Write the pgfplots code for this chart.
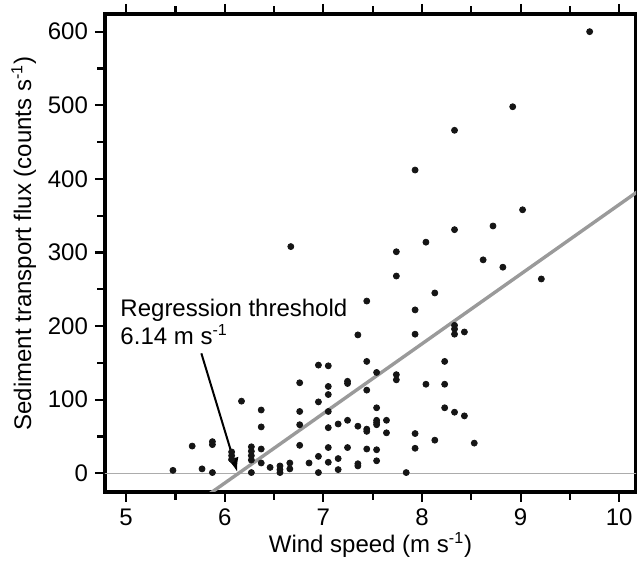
\documentclass[border=0pt]{standalone}
\usepackage{fontspec}
\setmainfont{Liberation Sans}
\usepackage{pgfplots}
\pgfplotsset{compat=1.18}
\usetikzlibrary{arrows.meta}
\newcommand\fs{\fontsize{12}{14}\selectfont}
\definecolor{regline}{HTML}{9A9A9A}
\definecolor{zeroline}{HTML}{ACACAC}
\definecolor{dot}{HTML}{151515}

\begin{document}
\begin{tikzpicture}
\begin{axis}[
    at={(0,0)}, anchor=south west,
    scale only axis,
    width=265.5pt, height=239pt,
    xmin=4.786, xmax=10.17,
    ymin=-25.4, ymax=624,
    xtick={5,6,7,8,9,10},
    ytick={0,100,200,300,400,500,600},
    minor xtick={5.5,6.5,7.5,8.5,9.5},
    minor ytick={50,150,250,350,450,550},
    xtick pos=both, ytick pos=left,
    tick align=outside,
    major tick length=5pt, minor tick length=3.8pt,
    tick style={black, line width=1.1pt},
    axis line style={line width=1.6pt},
    /pgf/number format/assume math mode=true,
    tick label style={font=\fs},
    label style={font=\fs},
    xlabel={Wind speed (m s\textsuperscript{-1})},
    xlabel style={yshift=3.5pt},
    ylabel={Sediment transport flux (counts s\textsuperscript{-1})},
    ylabel style={at={(ticklabel cs:0.52)}, yshift=-1pt},
]

% zero line
\addplot[zeroline, line width=0.5pt] coordinates {(4.6,0) (10.4,0)};

% regression line, threshold 6.14 m/s
\addplot[regline, line width=1.7pt] coordinates {(5.8,-32.2) (10.3,393.5)};

% observations
\addplot[only marks, mark=*, mark size=1.5pt, color=dot] coordinates {
(5.475,4) (5.67,37) (5.77,6) (5.875,43) (5.875,39) (5.875,1)
(6.07,29) (6.07,24) (6.07,19) (6.17,98)
(6.27,36) (6.27,30) (6.27,24) (6.27,18) (6.27,1)
(6.37,86) (6.37,63) (6.37,33) (6.37,14)
(6.46,8) (6.56,10) (6.56,5) (6.56,1) (6.66,14) (6.66,6)
(6.67,308)
(6.76,123) (6.76,84) (6.76,66) (6.76,38)
(6.855,14)
(6.95,147) (6.95,97) (6.95,23) (6.95,1)
(7.05,146) (7.05,118) (7.05,107) (7.05,84) (7.05,62) (7.05,35) (7.05,15)
(7.15,67) (7.15,20) (7.15,5)
(7.245,125) (7.245,122) (7.245,72) (7.245,35)
(7.35,188) (7.35,64) (7.35,13) (7.35,10)
(7.44,234) (7.44,152) (7.44,113) (7.44,60) (7.44,57) (7.44,33)
(7.54,137) (7.54,89) (7.54,72) (7.54,69) (7.54,66) (7.54,32) (7.54,17)
(7.64,72) (7.64,55)
(7.74,301) (7.74,268) (7.74,134) (7.74,127)
(7.84,1)
(7.93,412) (7.93,222) (7.93,189) (7.93,54) (7.93,34)
(8.04,314) (8.04,121)
(8.13,245) (8.13,45)
(8.23,152) (8.23,121) (8.23,89)
(8.33,466) (8.33,331) (8.33,201) (8.33,196) (8.33,189) (8.33,83)
(8.43,192) (8.43,78)
(8.53,41)
(8.62,290) (8.72,336) (8.82,280) (8.92,498) (9.02,358) (9.21,264)
(9.70,600)
};

% annotation
\node[anchor=base west, inner sep=0pt, font=\fs] at (axis cs:4.939,213) {Regression threshold};
\node[anchor=base west, inner sep=0pt, font=\fs] at (axis cs:4.939,175) {6.14 m s\textsuperscript{-1}};
\draw[line width=1pt, -{Latex[length=7pt,width=5.5pt]}] (axis cs:5.763,163) -- (axis cs:6.127,2);

\end{axis}
\pgfresetboundingbox
\path[use as bounding box] (-52.5pt,-34.5pt) rectangle (266pt,246pt);
\end{tikzpicture}
\end{document}
